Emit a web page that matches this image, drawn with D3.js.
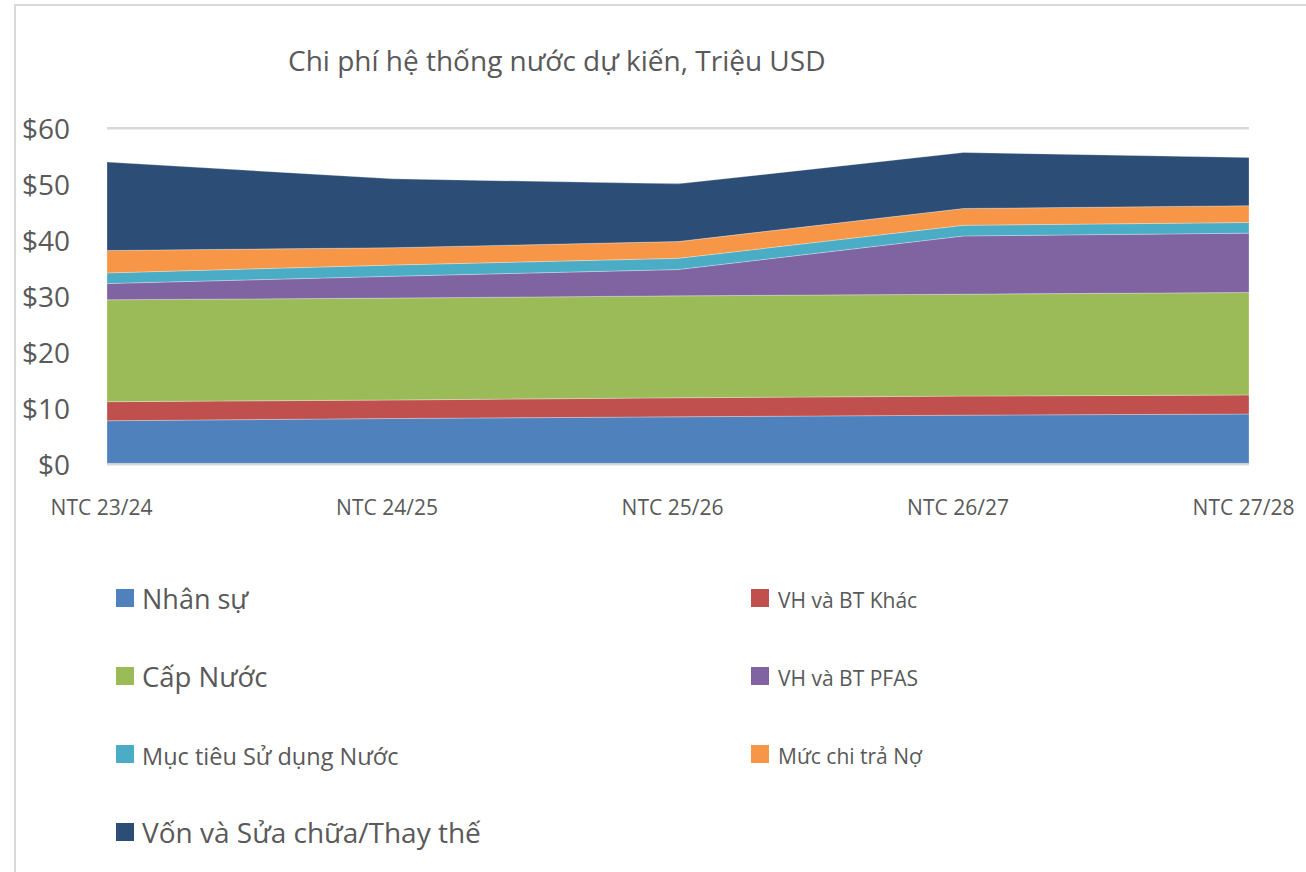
<!DOCTYPE html>
<html>
<head>
<meta charset="utf-8">
<script src="https://cdn.jsdelivr.net/npm/d3@7"></script>
<style>
  body { margin: 0; background: #fff; }
  text { font-family: "Open Sans", sans-serif; fill: #595959; }
</style>
</head>
<body>
<div id="chart"></div>
<script>
// Data, million USD
const years = ["NTC 23/24", "NTC 24/25", "NTC 25/26", "NTC 26/27", "NTC 27/28"];
const seriesNames = [
    "Nhân sự",
    "VH và BT Khác",
    "Cấp Nước",
    "VH và BT PFAS",
    "Mục tiêu Sử dụng Nước",
    "Mức chi trả Nợ",
    "Vốn và Sửa chữa/Thay thế"
];
const nhanSu = [7.6, 8.0, 8.3, 8.6, 8.8];
const vhKhac = [3.4, 3.3, 3.4, 3.4, 3.4];
const capNuoc = [18.2, 18.2, 18.2, 18.2, 18.3];
const pfas = [2.9, 3.9, 4.7, 10.4, 10.6];
const mucTieu = [1.9, 2.0, 2.0, 1.9, 1.9];
const traNo = [4.0, 3.1, 3.0, 3.0, 3.0];
const von = [15.8, 12.3, 10.3, 10.0, 8.6];
const yTicks = [0, 10, 20, 30, 40, 50, 60];

const seriesValues = [nhanSu, vhKhac, capNuoc, pfas, mucTieu, traNo, von];
const colors = ["#4F81BD", "#C0504D", "#9BBB59", "#8064A2", "#4BACC6", "#F79646", "#2C4D75"];
const legendFontSize = [27, 21, 27.5, 21, 23.5, 21, 28];

const WIDTH = 1306,
    HEIGHT = 872;

const svg = d3.select("#chart")
    .append("svg")
    .attr("width", WIDTH)
    .attr("height", HEIGHT);

// outer frame of the chart box
svg.append("path")
    .attr("d", `M15,${HEIGHT + 5} L15,5 L${WIDTH + 5},5`)
    .attr("fill", "none")
    .attr("stroke", "#d9d9d9")
    .attr("stroke-width", 2);

svg.append("text")
    .attr("x", 288)
    .attr("y", 71)
    .attr("font-size", 28)
    .text("Chi phí hệ thống nước dự kiến, Triệu USD");

// build rows for the stack
const rows = years.map((year, i) => {
    const row = { year: year };
    seriesNames.forEach((name, k) => { row[name] = seriesValues[k][i]; });
    return row;
});

const stacked = d3.stack().keys(seriesNames)(rows);

const x = d3.scalePoint()
    .domain(years)
    .range([107, 1249]);

const y = d3.scaleLinear()
    .domain([0, 60])
    .range([463.3, 127.3]);

// gridlines
svg.append("g")
    .selectAll("line")
    .data(yTicks)
    .join("line")
    .attr("x1", 107)
    .attr("x2", 1249)
    .attr("y1", d => y(d) + 1)
    .attr("y2", d => y(d) + 1)
    .attr("stroke", "#d9d9d9")
    .attr("stroke-width", 2.5);

const area = d3.area()
    .x(d => x(d.data.year))
    .y0(d => y(d[0]))
    .y1(d => y(d[1]));

svg.append("g")
    .selectAll("path")
    .data(stacked)
    .join("path")
    .attr("d", area)
    .attr("fill", (d, i) => colors[i])
    .attr("stroke", "#ffffff")
    .attr("stroke-opacity", 0.35)
    .attr("stroke-width", 0.8);

// y axis labels
const yAxis = svg.append("g")
    .attr("transform", "translate(70,0)")
    .call(d3.axisLeft(y).tickValues(yTicks).tickSize(0).tickPadding(0).tickFormat(d => "$" + d));
yAxis.select(".domain").remove();
yAxis.selectAll("text")
    .attr("font-size", 28)
    .attr("font-family", "Open Sans, sans-serif")
    .attr("fill", "#595959")
    .attr("dy", "0.4em");

// x axis labels
const xAxis = svg.append("g")
    .attr("transform", "translate(-6,0)")
    .call(d3.axisBottom(x).tickSize(0).tickPadding(0));
xAxis.select(".domain").remove();
xAxis.selectAll("text")
    .attr("font-size", 21)
    .attr("font-family", "Open Sans, sans-serif")
    .attr("fill", "#595959")
    .attr("y", 515)
    .attr("dy", 0);

// legend, two columns
const legend = svg.append("g")
    .selectAll("g")
    .data(seriesNames)
    .join("g")
    .attr("transform", (d, i) => `translate(${i % 2 === 0 ? 116 : 751}, ${589 + Math.floor(i / 2) * 78})`);

legend.append("rect")
    .attr("width", 18)
    .attr("height", 18)
    .attr("fill", (d, i) => colors[i]);

legend.append("text")
    .attr("x", (d, i) => i % 2 === 0 ? 26 : 27)
    .attr("y", (d, i) => i % 2 === 0 ? 20 : 19)
    .attr("font-size", (d, i) => legendFontSize[i])
    .text(d => d);
</script>
</body>
</html>
